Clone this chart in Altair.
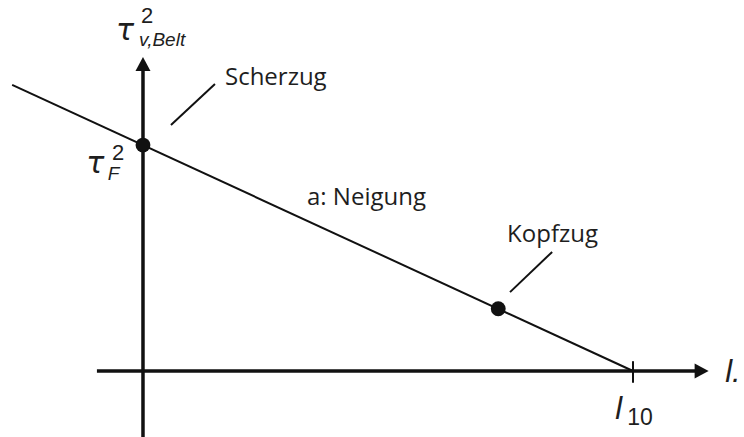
import altair as alt
import pandas as pd

# Schematic: belt shear stress tau^2 against the l-axis, falling straight line
# from the intercept tau_F^2 down to l_10.

# Value ranges of the drawing (l in units where l_10 = 10)
X_DOMAIN = [-2.918, 12.265]
Y_DOMAIN = [-1.347, 7.571]

# Main straight line
line_x = [-2.67, 10.0]
line_y = [5.84, 0.0]

# Marked states on the line: Scherzug (intercept) and Kopfzug
point_names = ["Scherzug", "Kopfzug"]
point_x = [0.0, 7.25]
point_y = [4.61, 1.27]

# Coordinate axes
yaxis_x = [0.0, 0.0]
yaxis_y = [-1.35, 6.15]
xaxis_x = [-0.94, 11.3]
xaxis_y = [0.0, 0.0]

# Tick mark at l_10
tick_x = [10.0, 10.0]
tick_y = [0.2, -0.24]

# Leader lines from the labels to the line
leader_id = ["Scherzug", "Scherzug", "Kopfzug", "Kopfzug"]
leader_x = [0.571, 1.469, 7.49, 8.35]
leader_y = [5.02, 5.857, 1.61, 2.43]

# Plain annotation labels
note_text = ["Scherzug", "a: Neigung", "Kopfzug"]
note_x = [1.673, 3.347, 7.43]
note_y = [5.837, 3.388, 2.633]

INK = "#111111"
TEXT_INK = "#1e1e1e"

xs = alt.Scale(domain=X_DOMAIN, nice=False, zero=False)
ys = alt.Scale(domain=Y_DOMAIN, nice=False, zero=False)


def X(field="x"):
    return alt.X(f"{field}:Q", scale=xs, axis=None)


def Y(field="y"):
    return alt.Y(f"{field}:Q", scale=ys, axis=None)


def segment(xv, yv, width, group=None):
    df = pd.DataFrame({"x": xv, "y": yv})
    enc = dict(x=X(), y=Y())
    if group is not None:
        df["g"] = group
        enc["detail"] = "g:N"
    return alt.Chart(df).mark_line(color=INK, strokeWidth=width, strokeCap="butt").encode(**enc)


def label(text, x, y, size, italic=False, font="Liberation Sans", weight="normal"):
    df = pd.DataFrame({"t": [text], "x": [x], "y": [y]})
    return alt.Chart(df).mark_text(
        align="left", baseline="alphabetic", font=font, fontSize=size,
        fontStyle="italic" if italic else "normal", fontWeight=weight, color=TEXT_INK,
    ).encode(x=X(), y=Y(), text="t:N")


y_axis = segment(yaxis_x, yaxis_y, 3.5)
x_axis = segment(xaxis_x, xaxis_y, 3.5)
tick = segment(tick_x, tick_y, 2)
main_line = segment(line_x, line_y, 2)
leaders = segment(leader_x, leader_y, 2, group=leader_id)

y_arrow = alt.Chart(pd.DataFrame({"x": [0.0], "y": [6.265]})).mark_point(
    shape="M0,-1L1.07,1L-1.07,1Z", size=196, filled=True, opacity=1, color=INK
).encode(x=X(), y=Y())
x_arrow = alt.Chart(pd.DataFrame({"x": [11.40], "y": [0.0]})).mark_point(
    shape="M1,0L-1,-1.07L-1,1.07Z", size=196, filled=True, opacity=1, color=INK
).encode(x=X(), y=Y())

dots = alt.Chart(pd.DataFrame({"name": point_names, "x": point_x, "y": point_y})).mark_circle(
    size=220, color=INK, opacity=1
).encode(x=X(), y=Y())

notes = alt.Chart(pd.DataFrame({"t": note_text, "x": note_x, "y": note_y})).mark_text(
    align="left", baseline="alphabetic", font="Open Sans", fontSize=24, color=TEXT_INK
).encode(x=X(), y=Y(), text="t:N")

# Axis symbols
math = [
    label("\u03c4", -0.55, 6.76, 30, italic=True, font="DejaVu Sans"),   # tau (vertical axis)
    label("2", -0.04, 7.10, 22),                                         # superscript
    label("v,Belt", -0.08, 6.63, 19, italic=True),                       # subscript
    label("\u03c4", -1.16, 4.04, 30, italic=True, font="DejaVu Sans"),   # tau_F
    label("2", -0.63, 4.31, 22),
    label("F", -0.72, 3.90, 19, italic=True),
    label("l", 9.64, -0.98, 31, italic=True),                            # l_10
    label("10", 9.88, -1.11, 23),
    label("l.", 11.88, -0.22, 31, italic=True),                          # horizontal axis name
]

chart = alt.layer(
    main_line, leaders, y_axis, x_axis, tick, y_arrow, x_arrow, dots, notes, *math
).properties(
    width=744, height=437, padding=0, autosize="none", background="white"
).configure_view(stroke=None)

chart.save("out.html", embed_options={"renderer": "svg", "actions": False})
